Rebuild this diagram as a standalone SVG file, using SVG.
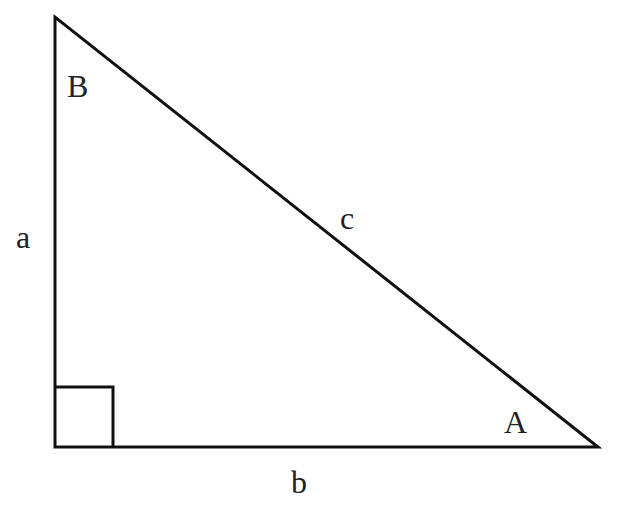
<svg xmlns="http://www.w3.org/2000/svg" width="618" height="507" viewBox="0 0 618 507">
<style>
.ln{fill:none;stroke:#111;stroke-width:3;stroke-linejoin:miter}
.lb{font-family:"Liberation Serif","Times New Roman",serif;font-size:32px;fill:#222}
</style>
<rect width="618" height="507" fill="#fff"/>
<g id="connectors">
<polygon class="ln" points="55,17 55,447 598,447"/>
<polyline class="ln" points="55,387 113,387 113,447"/>
</g>
<g id="labels">
<text class="lb" x="67" y="97">B</text>
<text class="lb" x="16" y="248">a</text>
<text class="lb" x="340" y="229">c</text>
<text class="lb" x="504" y="433">A</text>
<text class="lb" x="291" y="493">b</text>
</g>
</svg>
